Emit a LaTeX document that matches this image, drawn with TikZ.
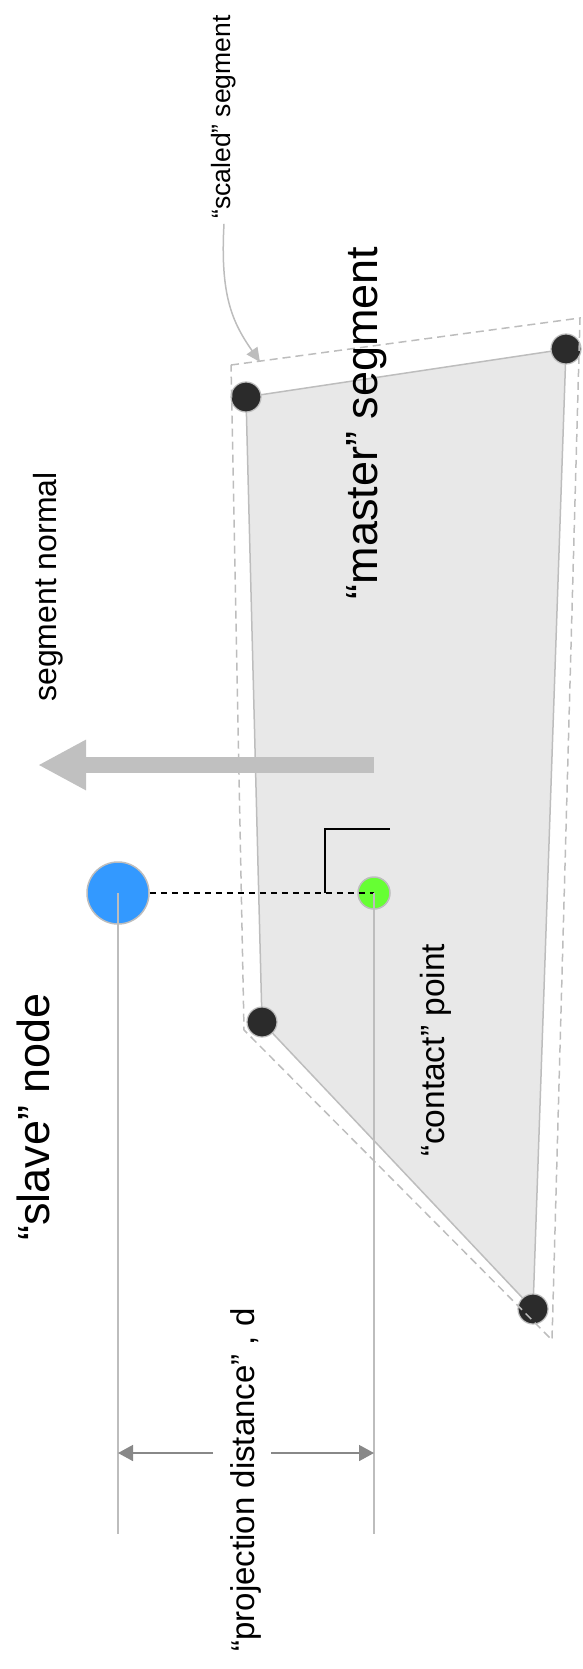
\documentclass[tikz,border=0pt]{standalone}
\usepackage{fontspec}
\setmainfont{Liberation Sans}
\usetikzlibrary{arrows.meta}

\definecolor{segfill}{HTML}{E8E8E8}
\definecolor{linegrey}{HTML}{BDBDBD}
\definecolor{arrowgrey}{HTML}{C0C0C0}
\definecolor{dimgrey}{HTML}{888888}
\definecolor{dotgrey}{HTML}{2B2B2B}
\definecolor{slaveblue}{HTML}{3399FF}
\definecolor{contactgreen}{HTML}{66FF33}

\begin{document}
\begin{tikzpicture}[x=1pt,y=-1pt,every node/.style={inner sep=0pt}]

\tikzstyle{corner}=[circle,fill=dotgrey,draw=linegrey,line width=1.2pt,minimum size=30pt];
\tikzstyle{slave}=[circle,fill=slaveblue,draw=linegrey,line width=1.5pt,minimum size=62pt];
\tikzstyle{contact}=[circle,fill=contactgreen,draw=linegrey,line width=1.5pt,minimum size=32pt];
\tikzstyle{lbl}=[rotate=90,text=black];
\tikzstyle{dimarrow}=[draw=dimgrey,line width=1.5pt,-{Triangle[length=15pt,width=16pt]}];
\tikzstyle{greyline}=[draw=linegrey,line width=1.5pt];

\useasboundingbox (0,0) rectangle (583,1669);

% master segment and its scaled copy
\coordinate (q1) at (246,397);
\coordinate (q2) at (566,349);
\coordinate (q3) at (533,1309);
\coordinate (q4) at (262,1022);
\coordinate (o1) at (231,365);
\coordinate (o2) at (580,318);
\coordinate (o3) at (552,1340);
\coordinate (o4) at (244,1030);

\fill[segfill] (q1) -- (q2) -- (q3) -- (q4) -- cycle;
\draw[greyline] (q1) -- (q2) -- (q3) -- (q4) -- cycle;

\node[corner] (p1) at (q1) {};
\node[corner] (p2) at (q2) {};
\node[corner] (p3) at (q3) {};
\node[corner] (p4) at (q4) {};

\draw[greyline,dash pattern=on 8pt off 5pt] (o1) -- (o2) -- (o3) -- (o4) -- cycle;

% normal
\coordinate (nstart) at (374,765);
\coordinate (ntip) at (38,765);
\draw[arrowgrey,line width=16pt,-{Triangle[length=48pt,width=47pt]}] (nstart) -- (ntip);

\node[slave] (s) at (118,893) {};
\node[contact] (c) at (374,893) {};

\draw[black,line width=1.3pt,dash pattern=on 6pt off 5pt] (s) -- (c.center);
\draw[black,line width=1.3pt] (325,893) -- (325,829) -- (390,829);

\coordinate (sb) at (118,1534);
\coordinate (cb) at (374,1534);
\draw[greyline] (s.center) -- (sb);
\draw[greyline] (c.center) -- (cb);

\node[lbl,font=\fontsize{45}{54}\selectfont] (slavelbl) at (33,1117) {“slave” node};
\node[lbl,font=\fontsize{32}{38}\selectfont] (normallbl) at (48,587) {segment normal};
\node[lbl,font=\fontsize{45}{54}\selectfont] (masterlbl) at (367,423) {“master” segment};
\node[lbl,font=\fontsize{26.5}{32}\selectfont] (scaledlbl) at (224,117) {“scaled” segment};
\node[lbl,font=\fontsize{33.5}{40}\selectfont] (contactlbl) at (436,1050) {“contact” point};
\node[lbl,font=\fontsize{33}{40}\selectfont] (distlbl) at (246,1480) {“projection distance” , d};

\coordinate (scaledtip) at (260,362);
\draw[greyline,-{Triangle[length=14pt,width=13pt]}] ([yshift=-5pt]scaledlbl.west) .. controls (220,295) and (232,322) .. (scaledtip);

\coordinate (da) at (213,1453);
\coordinate (db) at (271,1453);
\draw[dimarrow] (da) -- (da -| sb);
\draw[dimarrow] (db) -- (db -| cb);

\end{tikzpicture}
\end{document}
